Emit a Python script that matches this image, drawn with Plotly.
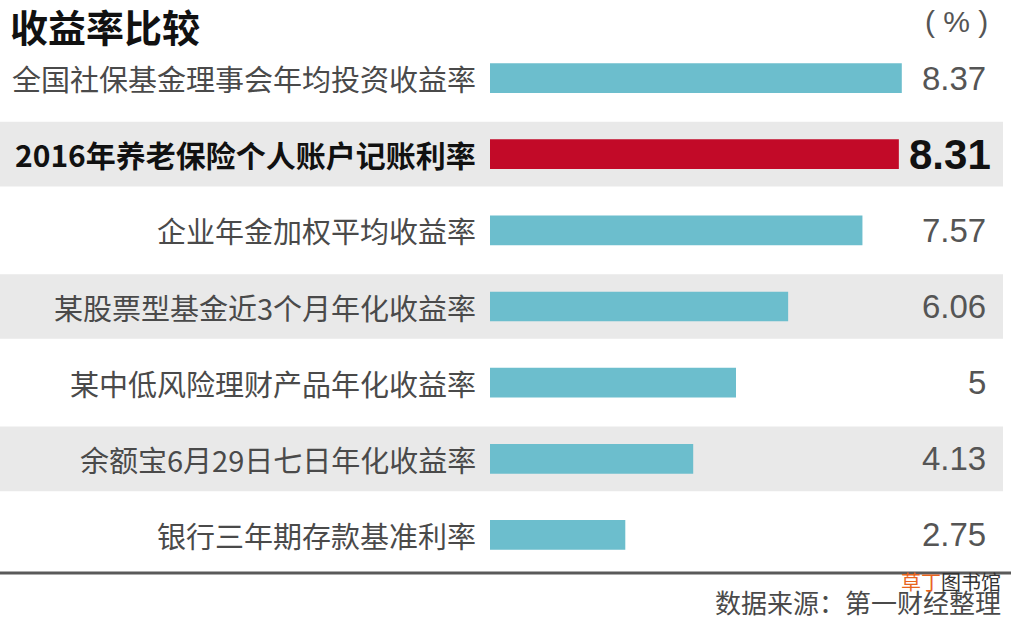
import plotly.graph_objects as go

categories = [
    "全国社保基金理事会年均投资收益率",
    "2016年养老保险个人账户记账利率",
    "企业年金加权平均收益率",
    "某股票型基金近3个月年化收益率",
    "某中低风险理财产品年化收益率",
    "余额宝6月29日七日年化收益率",
    "银行三年期存款基准利率",
]
values = [8.37, 8.31, 7.57, 6.06, 5, 4.13, 2.75]
value_labels = ["8.37", "8.31", "7.57", "6.06", "5", "4.13", "2.75"]
highlight_index = 1

W, H = 1011, 619
px_per_unit = 49.2
zero_px = 490
top_m, bot_m = 40, 46

CYAN = "#6cbecd"
RED = "#c20a28"
BAND = "#e9e9e9"
CJK = "Noto Sans CJK SC"
LAT = "Liberation Sans, Arial, sans-serif"

colors = [RED if i == highlight_index else CYAN for i in range(len(values))]

fig = go.Figure()
fig.add_trace(go.Bar(
    x=values, y=categories, orientation="h",
    marker=dict(color=colors, line=dict(width=0)),
    width=0.39, hoverinfo="skip",
))

shapes = []
for i in range(len(categories)):
    if i % 2 == 1:
        shapes.append(dict(type="rect", xref="paper", yref="y",
                           x0=0, x1=1003 / W, y0=i - 0.425, y1=i + 0.425,
                           fillcolor=BAND, line=dict(width=0), layer="below"))
shapes.append(dict(type="line", xref="paper", yref="paper", x0=0, x1=1,
                   y0=0.0, y1=0.0, line=dict(color="#5a5a5a", width=3)))

annotations = []
val_x = (988 - zero_px) / px_per_unit
lab_x = (478 - zero_px) / px_per_unit
for i, (c, v) in enumerate(zip(categories, value_labels)):
    if i == highlight_index:
        annotations.append(dict(x=lab_x, y=c, xref="x", yref="y", text="<b>" + c + "</b>",
                                xanchor="right", yanchor="middle", showarrow=False,
                                font=dict(family=CJK, size=30, color="#111111")))
        annotations.append(dict(x=(993 - zero_px) / px_per_unit, y=c, xref="x", yref="y",
                                text="<b>" + v + "</b>", xanchor="right", yanchor="middle",
                                showarrow=False, font=dict(family=LAT, size=42, color="#111111")))
    else:
        annotations.append(dict(x=lab_x, y=c, xref="x", yref="y", text=c,
                                xanchor="right", yanchor="middle", showarrow=False,
                                font=dict(family=CJK, size=29, color="#4a4a4a")))
        annotations.append(dict(x=val_x, y=c, xref="x", yref="y", text=v,
                                xanchor="right", yanchor="middle", showarrow=False,
                                font=dict(family=LAT, size=33, color="#555555")))

plot_h = H - top_m - bot_m
def py(pix):
    return (H - bot_m - pix) / plot_h

annotations.append(dict(x=8 / W, y=py(25), xref="paper", yref="paper", text="<b>收益率比较</b>",
                        xanchor="left", yanchor="middle", showarrow=False,
                        font=dict(family=CJK, size=38, color="#111111")))
annotations.append(dict(x=990 / W, y=py(22), xref="paper", yref="paper", text="( % )",
                        xanchor="right", yanchor="middle", showarrow=False,
                        font=dict(family=LAT, size=30, color="#555555")))
annotations.append(dict(x=1003 / W, y=py(601), xref="paper", yref="paper",
                        text="数据来源：第一财经整理", xanchor="right", yanchor="middle",
                        showarrow=False, font=dict(family=CJK, size=26, color="#4a4a4a")))
annotations.append(dict(x=1003 / W, y=py(581), xref="paper", yref="paper",
                        text="<span style='color:#e8641e'>草丁</span>图书馆",
                        xanchor="right", yanchor="middle", showarrow=False,
                        font=dict(family=CJK, size=20, color="#333333")))

x0 = -zero_px / px_per_unit
x1 = (W - zero_px) / px_per_unit

fig.update_layout(
    width=W, height=H,
    margin=dict(l=0, r=0, t=top_m, b=bot_m, pad=0),
    paper_bgcolor="white", plot_bgcolor="rgba(0,0,0,0)",
    showlegend=False,
    xaxis=dict(range=[x0, x1], visible=False, fixedrange=True),
    yaxis=dict(type="category", categoryorder="array", categoryarray=categories,
               autorange=False, range=[6.5, -0.5], visible=False, fixedrange=True),
    shapes=shapes, annotations=annotations,
)

fig.write_html("out.html", config=dict(displayModeBar=False),
               post_script="document.body.style.margin='0px';document.body.style.overflow='hidden';")
